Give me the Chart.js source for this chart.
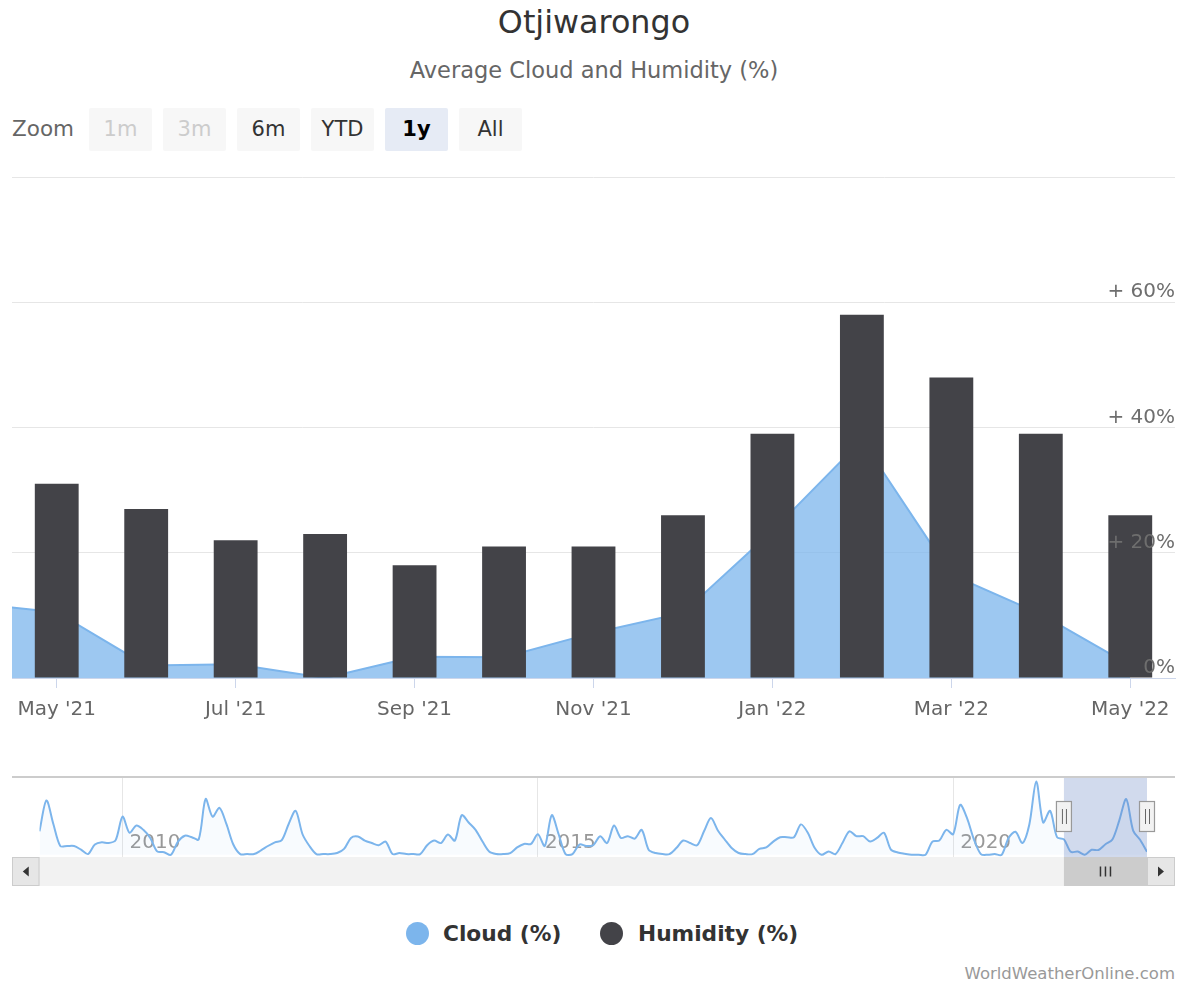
<!DOCTYPE html>
<html>
<head>
<meta charset="utf-8">
<script src="https://cdn.jsdelivr.net/npm/chart.js@4"></script>
<style>
html,body{margin:0;padding:0;background:#fff;}
body{width:1185px;height:985px;position:relative;overflow:hidden;font-family:"DejaVu Sans",sans-serif;}
#title{position:absolute;left:0;top:0;width:1188px;text-align:center;font-size:31.8px;line-height:44px;color:#333;}
#subtitle{position:absolute;left:0;top:55px;width:1188px;text-align:center;font-size:22.5px;line-height:30px;color:#666;}
#zoomlbl{position:absolute;left:12px;top:114px;font-size:21.5px;line-height:30px;color:#666;}
.btn{position:absolute;top:108px;width:63px;height:43px;line-height:43px;text-align:center;background:#f7f7f7;font-size:21px;color:#333;border-radius:2px;}
.btn.dis{color:#cccccc;}
.btn.sel{background:#e6ebf5;font-weight:bold;color:#000;}
canvas{position:absolute;left:0;}
#main{top:160px;}
#nav{top:770px;}
.leg{position:absolute;top:920px;height:28px;line-height:28px;font-size:21.7px;font-weight:bold;color:#333;white-space:nowrap;}
.dot{position:absolute;top:922px;width:23px;height:23px;border-radius:50%;}
#credit{position:absolute;right:10px;top:963px;font-size:16.5px;line-height:22px;color:#999;}
</style>
</head>
<body>
<div id="title">Otjiwarongo</div>
<div id="subtitle">Average Cloud and Humidity (%)</div>
<div id="zoomlbl">Zoom</div>
<div class="btn dis" style="left:89px">1m</div>
<div class="btn dis" style="left:163px">3m</div>
<div class="btn" style="left:237px">6m</div>
<div class="btn" style="left:311px">YTD</div>
<div class="btn sel" style="left:385px">1y</div>
<div class="btn" style="left:459px">All</div>
<canvas id="main" width="1185" height="580"></canvas>
<canvas id="nav" width="1185" height="120"></canvas>
<div class="dot" style="left:406px;background:#7cb5ec"></div>
<div class="leg" style="left:443px">Cloud (%)</div>
<div class="dot" style="left:600px;background:#434348"></div>
<div class="leg" style="left:638px">Humidity (%)</div>
<div id="credit">WorldWeatherOnline.com</div>
<script>
// ---- data ----
const monthNames = ['Jan','Feb','Mar','Apr','May','Jun','Jul','Aug','Sep','Oct','Nov','Dec'];
const firstYear = 2009; // cloud series starts Jan 2009, monthly
const cloud2009 = [16,37,21,6,6,6,3.5,0.5,7,8.5,8,10];
const cloud2010 = [26,15,20,17,11.5,2.3,1.8,0,9,13,12,10.5];
const cloud2011 = [38,26,32,21,7,0.5,0.5,0.5,3,6,8.5,10];
const cloud2012 = [21,30,14,6,0.5,0.5,0.5,1.2,4,11.5,12.4,9.7];
const cloud2013 = [8,6.5,9,0.5,1.2,0.5,0.5,0.5,6.5,9.7,8,13.8];
const cloud2014 = [9.7,27,22,17,9,2,0.5,0.5,1.2,5,7.4,7.4];
const cloud2015 = [14,6,27,14,0.5,0.5,7,6,6.5,12.7,8,20];
const cloud2016 = [11.5,12.7,11,17,3.5,1.2,0.5,0.5,4.6,9.7,8,6.5];
const cloud2017 = [16,25,16.6,10.4,4.6,1.2,0.5,0.5,4,5,9,12];
const cloud2018 = [12,12,20.7,15,4.6,0,2.3,0.5,8,16,12.7,12.7];
const cloud2019 = [9,11.5,15,3.5,1.6,0.7,0,0,0,9,9.7,17];
const cloud2020 = [14,34,25,10.4,0.5,0,0.5,0,11.5,15.7,8,20.7];
const cloud2021 = [50,22,30,12,10.5,2,2.2,0,3.4,3.3,7.2,10.4];
const cloud2022 = [23.5,38,16.5,10.2,2];
const cloud = [].concat(cloud2009,cloud2010,cloud2011,cloud2012,cloud2013,cloud2014,cloud2015,
  cloud2016,cloud2017,cloud2018,cloud2019,cloud2020,cloud2021,cloud2022);

const humidityFrom = "May '21";
const humidity = [31,27,22,23,18,21,21,26,39,58,48,39,26]; // May '21 .. May '22

const mainTickLabels = ["May '21","Jul '21","Sep '21","Nov '21","Jan '22","Mar '22","May '22"];
const yTicks = [0,20,40,60,80];
const yTickLabels = ['0%','+ 20%','+ 40%','+ 60%',''];
const navYearLabels = ['2010','2015','2020'];

// ---- helpers ----
function monthIndexOf(label){ // "May '21" -> months since Jan firstYear
  const [m, y] = label.split(" '");
  return monthNames.indexOf(m) + (2000 + parseInt(y,10) - firstYear) * 12;
}
const hStart = monthIndexOf(humidityFrom);
const hEnd = hStart + humidity.length - 1;

Chart.defaults.font.family = '"DejaVu Sans", sans-serif';
Chart.defaults.animation = false;

const cloudPts = cloud.map((v,i)=>({x:i, y:v}));
const humPts = humidity.map((v,i)=>({x:hStart+i, y:v}));

new Chart(document.getElementById('main'), {
  type: 'bar',
  data: {
    datasets: [
      { type:'line', label:'Cloud (%)', data: cloudPts, borderColor:'#7cb5ec', borderWidth:2,
        backgroundColor:'rgba(124,181,236,0.75)', fill:'origin', pointRadius:0, tension:0, order:2 },
      { type:'bar', label:'Humidity (%)', data: humPts, backgroundColor:'#434348',
        barPercentage:0.49, categoryPercentage:1, order:1 }
    ]
  },
  options: {
    responsive:false,
    layout:{padding:{top:17,left:12,right:10,bottom:8}},
    plugins:{legend:{display:false}, tooltip:{enabled:false}},
    scales:{
      x:{ type:'linear', min:hStart-0.5, max:hEnd+0.5, offset:false,
        afterBuildTicks: s => { s.ticks = mainTickLabels.map(l=>({value:monthIndexOf(l)})); },
        grid:{drawOnChartArea:false, drawTicks:true, tickLength:10, color:'#ccd6eb', offset:false},
        border:{color:'#ccd6eb', width:1},
        ticks:{ callback:(v,i)=>mainTickLabels[i], color:'#666', font:{size:20}, padding:10,
          maxRotation:0, autoSkip:false }
      },
      y:{ position:'right', min:0, max:80,
        afterBuildTicks: s => { s.ticks = yTicks.map(v=>({value:v})); },
        grid:{color:'#e6e6e6', drawTicks:false, z:-1},
        border:{display:false},
        ticks:{ z:1, mirror:true, padding:0, labelOffset:-10, color:'#6e6e6e', font:{size:20},
          callback:(v,i)=>yTickLabels[i] }
      }
    }
  }
});

const selFrom = hStart, selTo = hEnd;
const navDecor = {
  id:'navDecor',
  afterDraw(chart){
    const {ctx, chartArea:a, scales:{x}} = chart;
    const x0 = x.getPixelForValue(selFrom), x1 = x.getPixelForValue(selTo);
    ctx.save();
    // selection mask
    ctx.fillStyle = 'rgba(102,133,194,0.3)';
    ctx.fillRect(x0, a.top, x1-x0, a.bottom-a.top);
    // outline
    ctx.strokeStyle = '#cccccc'; ctx.lineWidth = 2;
    ctx.beginPath(); ctx.moveTo(12, a.top); ctx.lineTo(1175, a.top); ctx.stroke();
    // scrollbar
    const sy = a.bottom, sh = 29;
    ctx.fillStyle = '#f2f2f2'; ctx.fillRect(12, sy, 1163, sh);
    ctx.lineWidth = 1;
    [[12, a.left],[x1, 1175]].forEach(([l,r])=>{
      ctx.fillStyle = '#e6e6e6'; ctx.fillRect(l, sy, r-l, sh);
      ctx.strokeStyle = '#cccccc'; ctx.strokeRect(l+0.5, sy+0.5, r-l-1, sh-1);
    });
    ctx.fillStyle = '#cccccc'; ctx.fillRect(x0, sy, x1-x0, sh);
    ctx.strokeStyle = '#333'; ctx.lineWidth = 1.5;
    const cx = (x0+x1)/2, cy = sy+sh/2;
    [-5,0,5].forEach(d=>{ ctx.beginPath(); ctx.moveTo(cx+d, cy-5); ctx.lineTo(cx+d, cy+5); ctx.stroke(); });
    ctx.fillStyle = '#333';
    const lc = (12+a.left)/2, rc = (x1+1175)/2;
    ctx.beginPath(); ctx.moveTo(lc-3, cy); ctx.lineTo(lc+3, cy-5); ctx.lineTo(lc+3, cy+5); ctx.closePath(); ctx.fill();
    ctx.beginPath(); ctx.moveTo(rc+3, cy); ctx.lineTo(rc-3, cy-5); ctx.lineTo(rc-3, cy+5); ctx.closePath(); ctx.fill();
    // handles
    [x0, x1].forEach(hx=>{
      const hy = a.top+24, hw = 16, hh = 31;
      ctx.fillStyle = '#f2f2f2'; ctx.fillRect(hx-hw/2, hy, hw, hh);
      ctx.strokeStyle = '#999999'; ctx.lineWidth = 1.2; ctx.strokeRect(hx-hw/2+0.5, hy+0.5, hw-1, hh-1);
      ctx.strokeStyle = '#666'; ctx.lineWidth = 1;
      [-2,2].forEach(d=>{ ctx.beginPath(); ctx.moveTo(hx+d+0.5, hy+8); ctx.lineTo(hx+d+0.5, hy+hh-8); ctx.stroke(); });
    });
    ctx.restore();
  }
};

new Chart(document.getElementById('nav'), {
  type:'line',
  data:{ datasets:[{ data: cloudPts, borderColor:'#7cb5ec', borderWidth:2,
    backgroundColor:'rgba(124,181,236,0.05)', fill:'origin', pointRadius:0, tension:0.3 }] },
  plugins:[navDecor],
  options:{
    responsive:false,
    layout:{padding:{top:7,left:39.5,right:38,bottom:29}},
    plugins:{legend:{display:false}, tooltip:{enabled:false}},
    scales:{
      x:{ type:'linear', min:0, max:cloud.length-1,
        afterBuildTicks: s => { s.ticks = navYearLabels.map(y=>({value:(parseInt(y,10)-firstYear)*12})); },
        grid:{color:'#e6e6e6', drawTicks:false},
        border:{display:false},
        ticks:{ mirror:true, padding:2, align:'start', labelOffset:7, color:'#999', font:{size:20},
          callback:(v,i)=>navYearLabels[i], maxRotation:0, autoSkip:false }
      },
      y:{ display:false, min:-1.5, max:53 }
    }
  }
});
</script>
</body>
</html>
